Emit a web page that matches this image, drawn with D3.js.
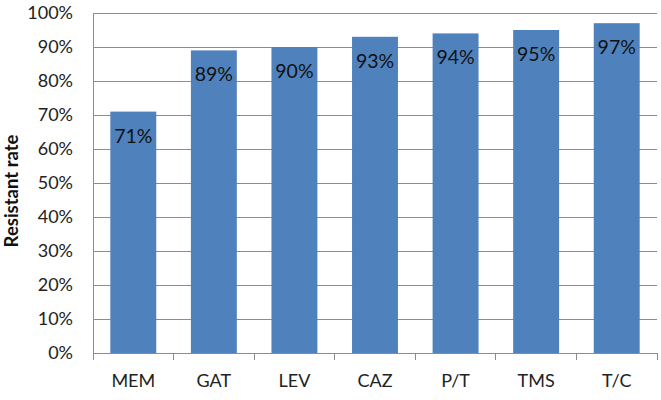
<!DOCTYPE html>
<html><head><meta charset="utf-8">
<script src="https://cdn.jsdelivr.net/npm/d3@7"></script>
<style>body{margin:0;background:#fff}svg{display:block}text{font-family:Lato,"Open Sans",sans-serif}</style>
</head><body><svg id="c" width="661" height="400"></svg>
<script>
const categories = ["MEM","GAT","LEV","CAZ","P/T","TMS","T/C"];
const values = [71,89,90,93,94,95,97];
const yTicks = [0,10,20,30,40,50,60,70,80,90,100];
const yTitle = "Resistant rate";

const svg = d3.select("#c");
const m = {l:93, r:4, t:13, b:47};
const W = 661, H = 400;
const x = d3.scaleBand().domain(categories).range([m.l, W-m.r]).paddingInner(0.43).paddingOuter(0.215);
const y = d3.scaleLinear().domain([0,100]).range([H-m.b, m.t]);

svg.append("g").selectAll("line").data(yTicks.filter(d=>d>0)).join("line")
  .attr("x1", m.l).attr("x2", W-m.r).attr("y1", d=>y(d)).attr("y2", d=>y(d))
  .attr("stroke", "#8c8c8c").attr("stroke-width", 1).attr("shape-rendering","crispEdges");

svg.append("g").selectAll("rect").data(values).join("rect")
  .attr("x", (d,i)=>x(categories[i])).attr("width", x.bandwidth())
  .attr("y", d=>y(d)).attr("height", d=>y(0)-y(d)).attr("fill", "#4f81bd");

svg.append("g").selectAll("text").data(values).join("text")
  .attr("x", (d,i)=>x(categories[i])+x.bandwidth()/2).attr("y", d=>y(d)+31)
  .attr("text-anchor","middle").attr("font-size", 19.5).attr("fill","#111")
  .text(d=>d+"%");

const ya = svg.append("g").attr("transform", `translate(${m.l},0)`)
  .call(d3.axisLeft(y).tickValues(yTicks).tickFormat(d=>d+"%").tickSize(0).tickPadding(20));
ya.select(".domain").attr("stroke","#8c8c8c");
ya.selectAll("text").attr("font-size", 18).attr("fill","#222").style("font-family","Lato,sans-serif");

const xa = svg.append("g").attr("transform", `translate(0,${y(0)})`)
  .call(d3.axisBottom(x).tickSize(0).tickPadding(21));
xa.select(".domain").remove();
xa.selectAll("text").attr("font-size", 18).attr("fill","#222").style("font-family","Lato,sans-serif");
svg.append("line").attr("x1", m.l).attr("x2", W-m.r).attr("y1", y(0)).attr("y2", y(0)).attr("stroke","#8c8c8c").attr("shape-rendering","crispEdges");
const step = x.step();
const bounds = categories.map((c,i)=>m.l + i*step).concat([W-m.r]);
svg.append("g").selectAll("line").data(bounds).join("line")
  .attr("x1", d=>d).attr("x2", d=>d).attr("y1", y(0)).attr("y2", y(0)+7)
  .attr("stroke","#8c8c8c").attr("shape-rendering","crispEdges");

svg.append("text").attr("transform", `translate(18,${(y(0)+y(100))/2 + 8}) rotate(-90)`)
  .attr("text-anchor","middle").attr("font-size", 18.5).attr("font-weight","bold").attr("fill","#111")
  .text(yTitle);
</script></body></html>
